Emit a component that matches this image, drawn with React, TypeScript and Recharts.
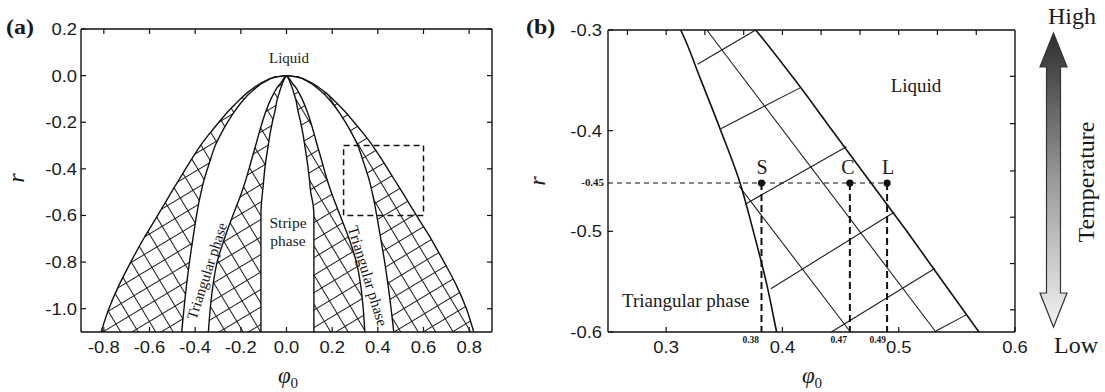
import React from "react";
import {
  ComposedChart,
  Area,
  Line,
  XAxis,
  YAxis,
  ReferenceArea,
  ReferenceLine,
  ReferenceDot,
} from "recharts";

// Phase boundaries phi0(r). r runs from the apex down.
const rGrid = [0, -0.005, -0.01, -0.02, -0.035, -0.05, -0.075, -0.1, -0.15, -0.2, -0.25, -0.3, -0.35, -0.4, -0.45, -0.5, -0.55, -0.6, -0.7, -0.8, -0.9, -1.0, -1.1];

// right half (phi0 > 0)
const liqR = [0, 0.045, 0.063, 0.088, 0.117, 0.14, 0.174, 0.202, 0.252, 0.296, 0.338, 0.377, 0.411, 0.443, 0.475, 0.507, 0.538, 0.569, 0.633, 0.69, 0.744, 0.788, 0.82];
const solR = [0, 0.043, 0.06, 0.084, 0.11, 0.13, 0.16, 0.185, 0.225, 0.258, 0.287, 0.3125, 0.33, 0.347, 0.363, 0.375, 0.386, 0.395, 0.413, 0.43, 0.445, 0.458, 0.47];
const triR = [0, 0.006, 0.01, 0.017, 0.027, 0.04, 0.055, 0.068, 0.089, 0.106, 0.121, 0.135, 0.15, 0.164, 0.179, 0.196, 0.215, 0.235, 0.274, 0.306, 0.325, 0.336, 0.343];
const strR = [0, 0.004, 0.007, 0.012, 0.018, 0.024, 0.032, 0.04, 0.05, 0.062, 0.072, 0.08, 0.088, 0.095, 0.101, 0.106, 0.116, 0.12, 0.12, 0.12, 0.12, 0.12, 0.12];

// left half (phi0 < 0)
const liqL = [0, -0.045, -0.063, -0.088, -0.117, -0.14, -0.174, -0.202, -0.252, -0.296, -0.338, -0.377, -0.41, -0.442, -0.473, -0.504, -0.534, -0.564, -0.626, -0.682, -0.734, -0.778, -0.812];
const solL = [0, -0.043, -0.06, -0.084, -0.11, -0.13, -0.16, -0.185, -0.225, -0.258, -0.287, -0.312, -0.33, -0.346, -0.362, -0.374, -0.385, -0.394, -0.41, -0.425, -0.438, -0.449, -0.459];
const triL = [0, -0.006, -0.01, -0.017, -0.027, -0.04, -0.055, -0.068, -0.089, -0.106, -0.121, -0.135, -0.15, -0.164, -0.179, -0.196, -0.215, -0.235, -0.272, -0.304, -0.322, -0.334, -0.342];
const strL = [0, -0.004, -0.007, -0.012, -0.018, -0.024, -0.032, -0.04, -0.05, -0.062, -0.072, -0.08, -0.088, -0.095, -0.1, -0.105, -0.11, -0.112, -0.112, -0.112, -0.112, -0.112, -0.112];

// ticks
const aTicksX = [-0.8, -0.6, -0.4, -0.2, 0, 0.2, 0.4, 0.6, 0.8];
const aTicksY = [0.2, 0, -0.2, -0.4, -0.6, -0.8, -1.0];
const bTicksX = [0.3, 0.4, 0.5, 0.6];
const bTicksXTop = [0.2667, 0.3, 0.3333, 0.3667, 0.4, 0.4333, 0.4667, 0.5, 0.5333, 0.5667];
const bTicksY = [-0.3, -0.4, -0.5, -0.6];
const bTicksYRight = [-0.346, -0.393, -0.44, -0.486, -0.532, -0.578];

// zoom window of panel (b), also the dashed box in (a)
const zoomPhi = [0.25, 0.6];
const zoomR = [-0.6, -0.3];

// panel (b): drawn tie/hatch lines [phi1, r1, phi2, r2]
const crossSegs = [
  [0.327, -0.334, 0.377, -0.3],
  [0.347, -0.398, 0.416, -0.357],
  [0.368, -0.473, 0.455, -0.416],
  [0.39, -0.557, 0.496, -0.481],
  [0.442, -0.6, 0.531, -0.537],
  [0.532, -0.599, 0.558, -0.583],
];
const diagSegs = [
  [0.335, -0.3, 0.532, -0.6],
  [0.3627, -0.455, 0.4585, -0.6],
];

// S, C, L state points at r = -0.45
const pointNames = ["S", "C", "L"];
const pointPhi = [0.382, 0.458, 0.49];
const pointR = -0.452;
const pointLabels = ["0.38", "0.47", "0.49"];

type Row = { r: number; liqR: number; solR: number; triR: number; strR: number; liqL: number; solL: number; triL: number; strL: number };

const rows: Row[] = rGrid.map((r, i) => ({
  r,
  liqR: liqR[i],
  solR: solR[i],
  triR: triR[i],
  strR: strR[i],
  liqL: liqL[i],
  solL: solL[i],
  triL: triL[i],
  strL: strL[i],
}));

const serif = '"Liberation Serif", "Times New Roman", serif';
const sans = '"Liberation Sans", Arial, sans-serif';
const INK = "#111";

const f1 = (v: number) => v.toFixed(1);

// inward ticks, labels outside (Origin style)
function BottomTick(props: any) {
  const { x = 0, y = 0, payload, fmt } = props;
  return (
    <g>
      <line x1={x} y1={y} x2={x} y2={y - 5} stroke={INK} strokeWidth={1.2} />
      {fmt && (
        <text transform={`translate(${x},${y + 21}) scale(1.15,1)`} textAnchor="middle" fontSize={16} fontFamily={sans} fill="#1a1a1a">
          {fmt(payload.value)}
        </text>
      )}
    </g>
  );
}

function TopTick(props: any) {
  const { x = 0, y = 0 } = props;
  return <line x1={x} y1={y} x2={x} y2={y + 5} stroke={INK} strokeWidth={1.2} />;
}

function LeftTick(props: any) {
  const { x = 0, y = 0, payload, fmt, gap = 4 } = props;
  return (
    <g>
      <line x1={x} y1={y} x2={x + 5} y2={y} stroke={INK} strokeWidth={1.2} />
      {fmt && (
        <text transform={`translate(${x - gap},${y + 6}) scale(1.15,1)`} textAnchor="end" fontSize={16} fontFamily={sans} fill="#1a1a1a">
          {fmt(payload.value)}
        </text>
      )}
    </g>
  );
}

function RightTick(props: any) {
  const { x = 0, y = 0 } = props;
  return <line x1={x} y1={y} x2={x - 5} y2={y} stroke={INK} strokeWidth={1.2} />;
}

const axisLine = { stroke: INK, strokeWidth: 1.4 };

function PanelA() {
  const hatch = "url(#xhatch)";
  return (
    <ComposedChart
      width={520}
      height={392}
      data={rows}
      layout="vertical"
      margin={{ top: 19, right: 18, bottom: 30, left: 21 }}
    >
      <defs>
        <pattern id="xhatch" width="15" height="15" patternUnits="userSpaceOnUse" patternTransform="rotate(-31)">
          <path d="M0 7.5 H15 M7.5 0 V15" stroke="#1e1e1e" strokeWidth={1.05} />
        </pattern>
      </defs>
      <XAxis type="number" domain={[-0.9, 0.9]} ticks={aTicksX} allowDataOverflow height={30} interval={0}
        tickSize={0} tickMargin={0} tickLine={false} axisLine={axisLine} tick={(p: any) => <BottomTick {...p} fmt={f1} />} />
      <XAxis xAxisId="top" orientation="top" type="number" domain={[-0.9, 0.9]} ticks={aTicksX} allowDataOverflow height={10} interval={0}
        tickSize={0} tickMargin={0} tickLine={false} axisLine={axisLine} tick={(p: any) => <TopTick {...p} />} />
      <YAxis type="number" dataKey="r" reversed domain={[-1.1, 0.2]} ticks={aTicksY} allowDataOverflow width={60} interval={0}
        tickSize={0} tickMargin={0} tickLine={false} axisLine={axisLine} tick={(p: any) => <LeftTick {...p} fmt={f1} />} />
      <YAxis yAxisId="right" orientation="right" type="number" dataKey="r" reversed domain={[-1.1, 0.2]} ticks={aTicksY} allowDataOverflow width={10} interval={0}
        tickSize={0} tickMargin={0} tickLine={false} axisLine={axisLine} tick={(p: any) => <RightTick {...p} />} />

      <Area type="monotone" dataKey={(d: Row) => [d.liqL, d.solL]} fill={hatch} fillOpacity={1} stroke="none" isAnimationActive={false} />
      <Area type="monotone" dataKey={(d: Row) => [d.triL, d.strL]} fill={hatch} fillOpacity={1} stroke="none" isAnimationActive={false} />
      <Area type="monotone" dataKey={(d: Row) => [d.strR, d.triR]} fill={hatch} fillOpacity={1} stroke="none" isAnimationActive={false} />
      <Area type="monotone" dataKey={(d: Row) => [d.solR, d.liqR]} fill={hatch} fillOpacity={1} stroke="none" isAnimationActive={false} />

      {["liqL", "solL", "triL", "strL", "strR", "triR", "solR", "liqR"].map((k) => (
        <Line key={k} type="monotone" dataKey={k} stroke={INK} strokeWidth={1.4} dot={false} isAnimationActive={false} />
      ))}

      <ReferenceArea x1={zoomPhi[0]} x2={zoomPhi[1]} y1={zoomR[0]} y2={zoomR[1]} fill="none" stroke={INK} strokeWidth={1.5} strokeDasharray="6 4" ifOverflow="visible" />
    </ComposedChart>
  );
}

function PanelB() {
  return (
    <ComposedChart
      width={510}
      height={392}
      data={rows}
      layout="vertical"
      margin={{ top: 20, right: 15, bottom: 30, left: 18 }}
    >
      <XAxis type="number" domain={zoomPhi} ticks={bTicksX} allowDataOverflow height={30} interval={0}
        tickSize={0} tickMargin={0} tickLine={false} axisLine={axisLine} tick={(p: any) => <BottomTick {...p} fmt={f1} />} />
      <XAxis xAxisId="top" orientation="top" type="number" domain={zoomPhi} ticks={bTicksXTop} allowDataOverflow height={10} interval={0}
        tickSize={0} tickMargin={0} tickLine={false} axisLine={axisLine} tick={(p: any) => <TopTick {...p} />} />
      <YAxis type="number" dataKey="r" reversed domain={zoomR} ticks={bTicksY} allowDataOverflow width={60} interval={0}
        tickSize={0} tickMargin={0} tickLine={false} axisLine={axisLine} tick={(p: any) => <LeftTick {...p} fmt={f1} gap={6} />} />
      <YAxis yAxisId="right" orientation="right" type="number" dataKey="r" reversed domain={zoomR} ticks={bTicksYRight} allowDataOverflow width={10} interval={0}
        tickSize={0} tickMargin={0} tickLine={false} axisLine={axisLine} tick={(p: any) => <RightTick {...p} />} />

      {crossSegs.concat(diagSegs).map((s, i) => (
        <ReferenceLine key={`h${i}`} segment={[{ x: s[0], y: s[1] }, { x: s[2], y: s[3] }]} stroke="#1e1e1e" strokeWidth={1.1} ifOverflow="visible" />
      ))}

      <Line type="monotone" dataKey="solR" stroke={INK} strokeWidth={1.6} dot={false} isAnimationActive={false} />
      <Line type="monotone" dataKey="liqR" stroke={INK} strokeWidth={1.6} dot={false} isAnimationActive={false} />

      <ReferenceLine segment={[{ x: zoomPhi[0], y: pointR }, { x: pointPhi[2], y: pointR }]} stroke={INK} strokeWidth={1} strokeDasharray="5 4" ifOverflow="visible" />
      {pointPhi.map((p, i) => (
        <ReferenceLine key={`v${i}`} segment={[{ x: p, y: pointR }, { x: p, y: zoomR[0] }]} stroke={INK} strokeWidth={2} strokeDasharray="7 4" ifOverflow="visible" />
      ))}
      {pointPhi.map((p, i) => (
        <ReferenceDot key={pointNames[i]} x={p} y={pointR} r={3.6} fill={INK} stroke="none" ifOverflow="visible" />
      ))}
    </ComposedChart>
  );
}

function Overlay() {
  const t = { fontFamily: serif, fill: "#1a1a1a" } as const;
  return (
    <svg width={1105} height={392} style={{ position: "absolute", left: 0, top: 0, pointerEvents: "none" }}>
      <defs>
        <linearGradient id="tempGrad" x1="0" y1="0" x2="0" y2="1">
          <stop offset="0%" stopColor="#2e2e2e" />
          <stop offset="50%" stopColor="#9a9a9a" />
          <stop offset="100%" stopColor="#f2f2f2" />
        </linearGradient>
      </defs>

      {/* panel (a) */}
      <text {...t} transform="translate(6,34) scale(1.2,1)" fontSize={20} fontWeight="bold">(a)</text>
      <text {...t} transform="translate(24,178) rotate(-90)" fontSize={24} fontStyle="italic" textAnchor="middle">r</text>
      <text {...t} x={288} y={383} fontSize={23} textAnchor="middle">
        <tspan fontStyle="italic">φ</tspan>
        <tspan fontSize={15} dy={5}>0</tspan>
      </text>
      <text {...t} x={289} y={63} fontSize={15} textAnchor="middle">Liquid</text>
      <text {...t} x={288} y={228} fontSize={15.5} textAnchor="middle">Stripe</text>
      <text {...t} x={288} y={246} fontSize={15.5} textAnchor="middle">phase</text>
      <text {...t} transform="translate(207,271) rotate(-72)" fontSize={15} textAnchor="middle" dominantBaseline="central">Triangular phase</text>
      <text {...t} transform="translate(368,276) rotate(73)" fontSize={15.5} textAnchor="middle" dominantBaseline="central">Triangular phase</text>

      {/* panel (b) */}
      <text {...t} transform="translate(526,34) scale(1.2,1)" fontSize={20} fontWeight="bold">(b)</text>
      <text {...t} transform="translate(545,181) rotate(-90)" fontSize={24} fontStyle="italic" textAnchor="middle">r</text>
      <text {...t} x={812} y={383} fontSize={23} textAnchor="middle">
        <tspan fontStyle="italic">φ</tspan>
        <tspan fontSize={15} dy={5}>0</tspan>
      </text>
      <text {...t} x={916} y={92} fontSize={19} textAnchor="middle">Liquid</text>
      <text {...t} x={622} y={307} fontSize={19}>Triangular phase</text>
      <text {...t} transform="translate(604,186) scale(1.15,1)" fontSize={9.5} fontWeight="bold" textAnchor="end">-0.45</text>
      {pointNames.map((n, i) => (
        <text key={n} {...t} x={[762, 848, 888][i]} y={174} fontSize={20} textAnchor="middle">{n}</text>
      ))}
      {pointLabels.map((l, i) => (
        <text key={l} {...t} x={[759, 847, 886][i]} y={343} fontSize={9.5} fontWeight="bold" textAnchor="end">{l}</text>
      ))}

      {/* temperature arrow */}
      <path
        d="M1053.5 33 L1067 67 L1060.5 67 L1060.5 293 L1067 293 L1053.5 327 L1040 293 L1046.5 293 L1046.5 67 L1040 67 Z"
        fill="url(#tempGrad)"
        stroke="#333"
        strokeWidth={1.2}
        strokeLinejoin="miter"
      />
      <text {...t} x={1072} y={24} fontSize={24} textAnchor="middle">High</text>
      <text {...t} x={1076} y={353} fontSize={24} textAnchor="middle">Low</text>
      <text {...t} transform="translate(1086,182) rotate(-90)" fontSize={24} textAnchor="middle" dominantBaseline="central">Temperature</text>
    </svg>
  );
}

export default function App() {
  return (
    <div style={{ position: "relative", width: 1105, height: 392, background: "#fff", overflow: "hidden" }}>
      <style>{"body{margin:0}"}</style>
      <div style={{ position: "absolute", left: 0, top: 0 }}>
        <PanelA />
      </div>
      <div style={{ position: "absolute", left: 530, top: 0 }}>
        <PanelB />
      </div>
      <Overlay />
    </div>
  );
}
